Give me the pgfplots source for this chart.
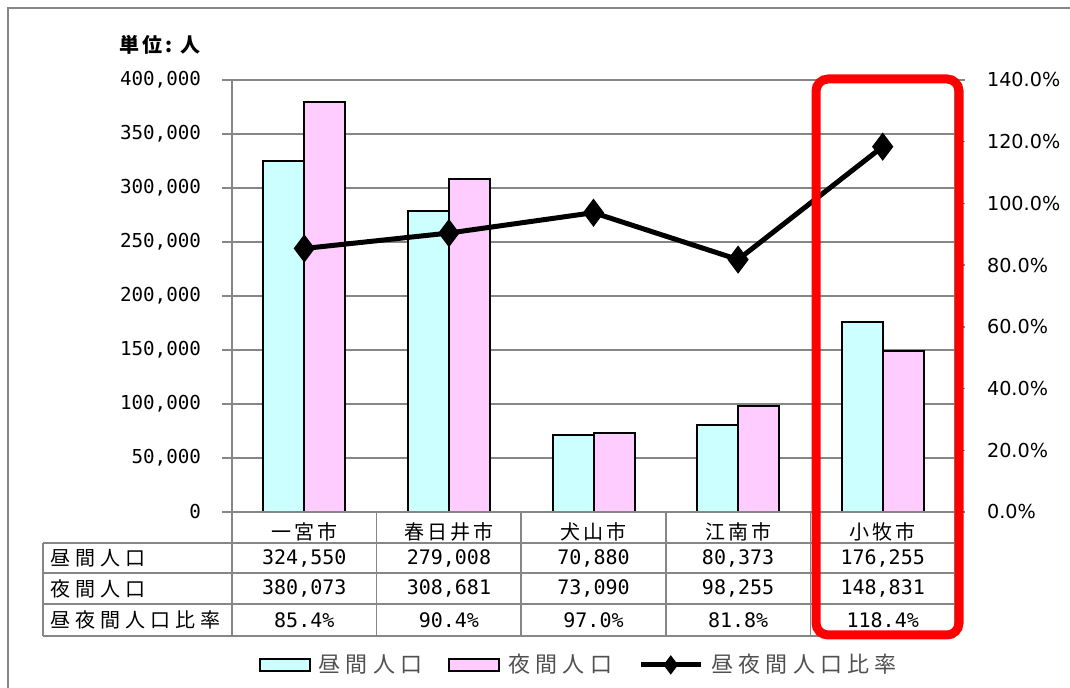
\documentclass[border=0pt]{standalone}
\usepackage{fontspec}
\usepackage{pgfplots}
\usepackage{pgfplotstable}
\pgfplotsset{compat=1.18}
\setmainfont{Noto Sans CJK JP}
\newfontfamily\jp{Noto Sans CJK JP}
\newfontfamily\num{DejaVu Sans Mono}
\newfontfamily\pct{DejaVu Sans}

\definecolor{dayfill}{HTML}{CCFFFF}
\definecolor{nightfill}{HTML}{FFCCFF}
\definecolor{rulegray}{HTML}{868686}
\definecolor{legendgray}{HTML}{505050}
\definecolor{hilite}{HTML}{FF0000}

% daytime / night-time population and their ratio (%)
\pgfplotstableread{
idx day night ratio
0 324550 380073 85.4
1 279008 308681 90.4
2 70880 73090 97.0
3 80373 98255 81.8
4 176255 148831 118.4
}\popdata

\pgfplotsset{
  barlegend/.style={legend image code/.code={\draw[##1] (0pt,-3pt) rectangle (25pt,3pt);}},
  linelegend/.style={legend image code/.code={%
    \draw[mark repeat=2, mark phase=2, ##1, mark size=2.8pt]
      plot coordinates {(0pt,0pt) (15pt,0pt) (30pt,0pt)};}},
  plotframe/.style={
    at={(116pt,-256pt)}, anchor=south west,
    scale only axis, width=361.5pt, height=216pt,
    xmin=-0.5, xmax=4.5,
    axis line style={-, draw=rulegray, line width=0.75pt},
    tick align=outside, major tick length=5pt,
    y tick style={rulegray, line width=0.75pt},
  },
}

\begin{document}
\begin{tikzpicture}
\useasboundingbox (0,0) rectangle (535pt,-344pt);

\begin{scope}[x=0.5pt,y=-0.5pt]
  % outer chart frame
  \draw[rulegray, line width=0.75pt] (8,8) rectangle (1100,720);
  \node[anchor=west, inner sep=0pt, font=\jp\bfseries\fontsize{10}{12}\selectfont\addfontfeature{LetterSpace=15}] at (119,45) {単位:\hspace{4pt}人};
\end{scope}

% population bars, left axis
\begin{axis}[
  plotframe,
  ymin=0, ymax=400000,
  axis x line*=bottom, axis y line*=left,
  ybar=0pt, bar width=20.5pt,
  xtick=data, xticklabels={一宮市,春日井市,犬山市,江南市,小牧市},
  x tick style={draw=none},
  xticklabel style={font=\jp\fontsize{10}{12}\selectfont\addfontfeature{LetterSpace=15}, anchor=center, yshift=-5pt},
  ytick={0,50000,...,400000},
  scaled y ticks=false,
  ymajorgrids, grid style={rulegray, line width=0.75pt},
  yticklabel style={font=\num\fontsize{9.6}{12}\selectfont, xshift=-7pt},
  yticklabel={\pgfmathprintnumber[fixed, precision=0, 1000 sep={,}, assume math mode=true]{\tick}},
]
\addplot[draw=black, line width=1pt, fill=dayfill] table[x=idx, y=day] {\popdata};
\addplot[draw=black, line width=1pt, fill=nightfill] table[x=idx, y=night] {\popdata};
\end{axis}

% ratio line, right axis
\begin{axis}[
  plotframe,
  ymin=0, ymax=140,
  axis x line=none, axis y line*=right,
  xtick=\empty,
  ytick={0,20,...,140},
  yticklabels={0.0\%,20.0\%,40.0\%,60.0\%,80.0\%,100.0\%,120.0\%,140.0\%},
  yticklabel style={font=\pct\fontsize{9.6}{11}\selectfont, anchor=west, xshift=7.5pt},
  legend columns=3,
  legend style={at={(0.481,-0.354)}, anchor=center, draw=none, fill=none,
    text=legendgray,
    font=\jp\fontsize{11}{13}\selectfont\addfontfeature{LetterSpace=24},
    /tikz/every odd column/.append style={column sep=2pt},
    /tikz/every even column/.append style={column sep=11pt}},
]
\addlegendimage{barlegend, draw=black, line width=1pt, fill=dayfill}
\addlegendentry{昼間人口}
\addlegendimage{barlegend, draw=black, line width=1pt, fill=nightfill}
\addlegendentry{夜間人口}
\addplot[black, line width=2.5pt, mark=diamond*, mark size=5pt, linelegend] table[x=idx, y=ratio] {\popdata};
\addlegendentry{昼夜間人口比率}
\end{axis}

\begin{scope}[x=0.5pt,y=-0.5pt]
  % data table below the plot
  \draw[rulegray, line width=0.75pt]
    (43,543) -- (955,543) (43,573) -- (955,573) (43,604) -- (955,604) (43,636) -- (955,636)
    (43,543) -- (43,636) (232,512) -- (955,512)
    \foreach \xx in {232,376.6,521.2,665.8,810.4,955} { (\xx,512) -- (\xx,636) };
  \begin{scope}[every node/.style={inner sep=0pt, font=\jp\fontsize{10}{12}\selectfont\addfontfeature{LetterSpace=25}}]
    \node[anchor=west] at (50,558) {昼間人口};
    \node[anchor=west] at (50,588.5) {夜間人口};
    \node[anchor=west] at (50,620) {昼夜間人口比率};
  \end{scope}
  \foreach \r in {0,...,4} {
    \pgfplotstablegetelem{\r}{day}\of\popdata \let\dayv\pgfplotsretval
    \pgfplotstablegetelem{\r}{night}\of\popdata \let\nightv\pgfplotsretval
    \pgfplotstablegetelem{\r}{ratio}\of\popdata \let\ratiov\pgfplotsretval
    \begin{scope}[every node/.style={inner sep=0pt, font=\num\fontsize{10}{12}\selectfont}]
      \node at ({304.3+144.6*\r},558) {\pgfmathprintnumber[fixed, precision=0, 1000 sep={,}, assume math mode=true]{\dayv}};
      \node at ({304.3+144.6*\r},588.5) {\pgfmathprintnumber[fixed, precision=0, 1000 sep={,}, assume math mode=true]{\nightv}};
      \node at ({304.3+144.6*\r},620) {\pgfmathprintnumber[fixed, fixed zerofill, precision=1, assume math mode=true]{\ratiov}\%};
    \end{scope}
  }
  % highlight of the 小牧市 column
  \draw[hilite, line width=4.5pt, rounded corners=6pt] (816,79) rectangle (959,635);
\end{scope}
\end{tikzpicture}
\end{document}
